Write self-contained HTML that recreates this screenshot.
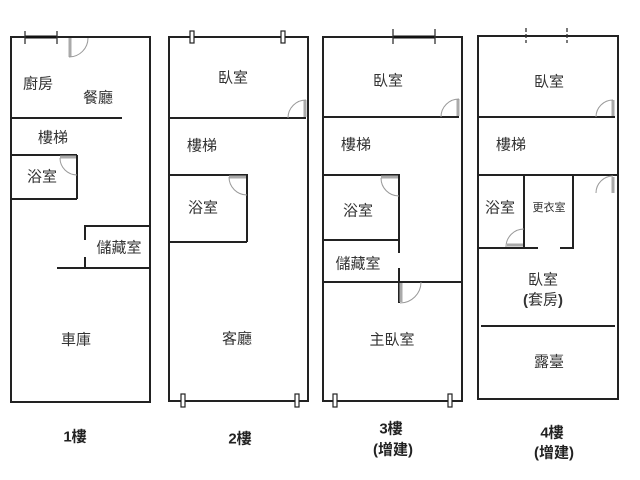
<!DOCTYPE html>
<html>
<head>
<meta charset="utf-8">
<style>
html,body{margin:0;padding:0;background:#fff;}
svg{display:block;}
text{font-family:"Liberation Sans","Noto Sans CJK TC","Noto Sans CJK SC",sans-serif;fill:#333;font-size:15px;text-anchor:middle;dominant-baseline:central;}
.b{font-weight:bold;fill:#222;}
.w{stroke:#222;stroke-width:2;fill:none;}
.d{stroke:#999;stroke-width:1;fill:none;}
.g{stroke:#aaa;stroke-width:3;fill:none;}
.t{stroke:#333;stroke-width:1.3;fill:none;}
.win{stroke:#222;stroke-width:1.2;fill:#fff;}
</style>
</head>
<body>
<svg width="640" height="480" viewBox="0 0 640 480" xmlns="http://www.w3.org/2000/svg">
<rect width="640" height="480" fill="#fff"/>

<!-- Floor 1 -->
<rect class="w" x="11" y="37" width="139" height="365"/>
<line x1="25" y1="37" x2="57" y2="37" stroke="#111" stroke-width="3"/>
<line class="t" x1="25" y1="31" x2="25" y2="44"/>
<line class="t" x1="57" y1="31" x2="57" y2="44"/>
<line class="g" x1="70" y1="38" x2="70" y2="57"/>
<path class="d" d="M69 57 A19 19 0 0 0 88 38"/>
<line class="w" x1="11" y1="118" x2="122" y2="118"/>
<line class="w" x1="11" y1="155" x2="77" y2="155"/>
<line class="w" x1="77" y1="155" x2="77" y2="199"/>
<line class="w" x1="11" y1="199" x2="77" y2="199"/>
<line class="g" x1="60" y1="157" x2="76" y2="157"/>
<path class="d" d="M60 158 A17 17 0 0 0 77 175"/>
<line class="w" x1="85" y1="226" x2="150" y2="226"/>
<line class="w" x1="85" y1="225" x2="85" y2="240"/>
<line class="w" x1="85" y1="257" x2="85" y2="268"/>
<line class="w" x1="57" y1="268" x2="150" y2="268"/>
<text x="38" y="84">廚房</text>
<text x="98" y="98">餐廳</text>
<text x="53" y="138">樓梯</text>
<text x="42" y="177">浴室</text>
<text x="119" y="248">儲藏室</text>
<text x="76" y="340">車庫</text>
<text class="b" x="75" y="437">1樓</text>

<!-- Floor 2 -->
<rect class="w" x="169" y="37" width="139" height="364"/>
<rect class="win" x="190" y="31" width="4" height="12"/>
<rect class="win" x="281" y="31" width="4" height="12"/>
<rect class="win" x="181" y="394" width="4" height="13"/>
<rect class="win" x="295" y="394" width="4" height="13"/>
<line class="w" x1="169" y1="118" x2="306" y2="118"/>
<line class="g" x1="305" y1="100" x2="305" y2="117"/>
<path class="d" d="M288 118 A18 18 0 0 1 306 100"/>
<line class="w" x1="169" y1="175" x2="247" y2="175"/>
<line class="w" x1="247" y1="174" x2="247" y2="242"/>
<line class="w" x1="169" y1="242" x2="247" y2="242"/>
<line class="g" x1="229" y1="177" x2="246" y2="177"/>
<path class="d" d="M229 177 A18 18 0 0 0 247 195"/>
<text x="233" y="78">臥室</text>
<text x="202" y="146">樓梯</text>
<text x="203" y="208">浴室</text>
<text x="237" y="339">客廳</text>
<text class="b" x="240" y="439">2樓</text>

<!-- Floor 3 -->
<rect class="w" x="323" y="37" width="139" height="364"/>
<line x1="393" y1="37" x2="435" y2="37" stroke="#111" stroke-width="3"/>
<line class="t" x1="393" y1="29" x2="393" y2="44"/>
<line class="t" x1="435" y1="29" x2="435" y2="44"/>
<rect class="win" x="333" y="394" width="4" height="13"/>
<rect class="win" x="448" y="394" width="4" height="13"/>
<line class="w" x1="323" y1="117" x2="459" y2="117"/>
<line class="g" x1="458" y1="99" x2="458" y2="116"/>
<path class="d" d="M441 117 A18 18 0 0 1 459 99"/>
<line class="w" x1="323" y1="175" x2="399" y2="175"/>
<line class="w" x1="399" y1="174" x2="399" y2="253"/>
<line class="w" x1="323" y1="240" x2="399" y2="240"/>
<line class="g" x1="381" y1="177" x2="398" y2="177"/>
<path class="d" d="M381 178 A18 18 0 0 0 399 196"/>
<line class="w" x1="323" y1="282" x2="462" y2="282"/>
<line class="w" x1="399" y1="268" x2="399" y2="303"/>
<line class="g" x1="401" y1="283" x2="401" y2="302"/>
<path class="d" d="M400 303 A21 21 0 0 0 421 282"/>
<text x="388" y="81">臥室</text>
<text x="356" y="145">樓梯</text>
<text x="358" y="211">浴室</text>
<text x="358" y="264">儲藏室</text>
<text x="392" y="340">主臥室</text>
<text class="b" x="391" y="429">3樓</text>
<text class="b" x="393" y="450">(增建)</text>

<!-- Floor 4 -->
<rect class="w" x="478" y="36" width="140" height="363"/>
<line class="t" x1="526" y1="28" x2="526" y2="43" stroke-dasharray="4 2"/>
<line class="t" x1="567" y1="28" x2="567" y2="43" stroke-dasharray="4 2"/>
<line class="w" x1="478" y1="117" x2="615" y2="117"/>
<line class="g" x1="613" y1="100" x2="613" y2="116"/>
<path class="d" d="M596 117 A17 17 0 0 1 613 100"/>
<line class="w" x1="478" y1="175" x2="618" y2="175"/>
<line class="w" x1="524" y1="175" x2="524" y2="248"/>
<line class="w" x1="573" y1="175" x2="573" y2="248"/>
<line class="w" x1="478" y1="248" x2="538" y2="248"/>
<line class="w" x1="560" y1="248" x2="574" y2="248"/>
<line class="g" x1="507" y1="245" x2="523" y2="245"/>
<path class="d" d="M506 247 A18 18 0 0 1 524 229"/>
<line class="g" x1="613" y1="177" x2="613" y2="193"/>
<path class="d" d="M613 176 A17 17 0 0 0 596 193"/>
<line class="w" x1="481" y1="326" x2="615" y2="326"/>
<text x="549" y="82">臥室</text>
<text x="511" y="145">樓梯</text>
<text x="500" y="208">浴室</text>
<text x="549" y="208" style="font-size:11px">更衣室</text>
<text x="543" y="280">臥室</text>
<text x="543" y="300"><tspan font-weight="bold">(</tspan>套房<tspan font-weight="bold">)</tspan></text>
<text x="549" y="362">露臺</text>
<text class="b" x="552" y="433">4樓</text>
<text class="b" x="554" y="453">(增建)</text>
</svg>
</body>
</html>
